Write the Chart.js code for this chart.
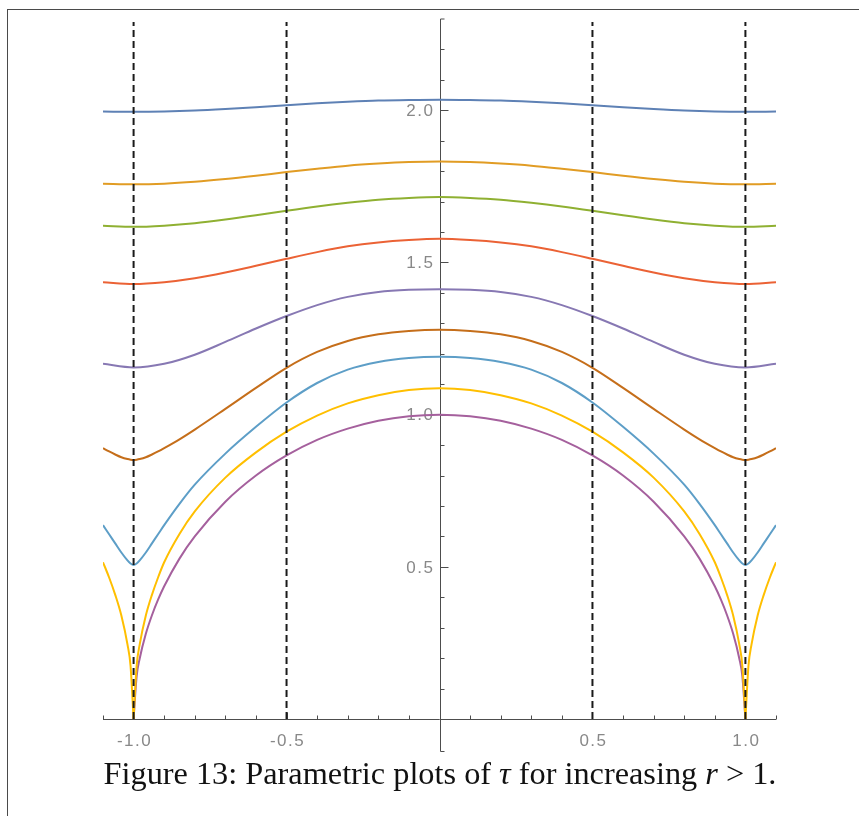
<!DOCTYPE html>
<html lang="en">
  <head>
    <title>Figure 13</title>
    <meta charset="UTF-8" />
    <style>
      body { margin: 0; background: #fff; }
      .frame {
        position: absolute; left: 7px; top: 9px;
        width: 900px; height: 900px;
        border: 1px solid #4a4a4a;
      }
      #plot { position: absolute; left: 0; top: 0; }
      .caption {
        position: absolute; left: 90px; top: 756px; width: 700px;
        text-align: center; white-space: nowrap;
        font-family: "Liberation Serif", serif; font-size: 32.3px; line-height: 34px;
        color: #111;
      }
      .caption i { font-style: italic; }
    </style>
  </head>
  <body>
    <div class="frame"></div>
    <canvas id="plot" width="859" height="816"></canvas>
    <div class="caption">Figure 13: Parametric plots of <i>τ</i> for increasing <i>r</i> &gt; 1.</div>

    <script src="https://cdn.jsdelivr.net/npm/chart.js@4"></script>
    <script>
      // x positions for the flat curves
      var xCoarse = [-1.1, -1.0, -0.9, -0.8, -0.7, -0.6, -0.5, -0.4, -0.3, -0.2, -0.1, 0,
                     0.1, 0.2, 0.3, 0.4, 0.5, 0.6, 0.7, 0.8, 0.9, 1.0, 1.1];
      // denser near x = ±1 where the lower curves dip
      var xFine = [-1.1, -1.08, -1.06, -1.04, -1.02, -1.01, -1.0, -0.99, -0.98, -0.96, -0.94, -0.92,
                   -0.9, -0.85, -0.8, -0.7, -0.6, -0.5, -0.4, -0.3, -0.2, -0.1, 0,
                   0.1, 0.2, 0.3, 0.4, 0.5, 0.6, 0.7, 0.8, 0.85, 0.9, 0.92, 0.94, 0.96, 0.98, 0.99,
                   1.0, 1.01, 1.02, 1.04, 1.06, 1.08, 1.1];
      var xArc = [-1.0, -0.99, -0.98, -0.96, -0.94, -0.92, -0.9, -0.85, -0.8, -0.7, -0.6, -0.5,
                  -0.4, -0.3, -0.2, -0.1, 0, 0.1, 0.2, 0.3, 0.4, 0.5, 0.6, 0.7, 0.8, 0.85,
                  0.9, 0.92, 0.94, 0.96, 0.98, 0.99, 1.0];

      var tau1 = [1.996, 1.995, 1.996, 1.999, 2.004, 2.010, 2.017, 2.023, 2.028, 2.032, 2.034, 2.035,
                  2.034, 2.032, 2.028, 2.023, 2.017, 2.010, 2.004, 1.999, 1.996, 1.995, 1.996];
      var tau2 = [1.759, 1.757, 1.759, 1.765, 1.774, 1.785, 1.797, 1.808, 1.818, 1.825, 1.830, 1.832,
                  1.830, 1.825, 1.818, 1.808, 1.797, 1.785, 1.774, 1.765, 1.759, 1.757, 1.759];
      var tau3 = [1.621, 1.617, 1.621, 1.629, 1.641, 1.655, 1.670, 1.684, 1.696, 1.706, 1.712, 1.715,
                  1.712, 1.706, 1.696, 1.684, 1.670, 1.655, 1.641, 1.629, 1.621, 1.617, 1.621];
      var tau4 = [1.435, 1.429, 1.435, 1.448, 1.467, 1.489, 1.512, 1.534, 1.553, 1.566, 1.574, 1.578,
                  1.574, 1.566, 1.553, 1.534, 1.512, 1.489, 1.467, 1.448, 1.435, 1.429, 1.435];
      var tau5 = [1.167, 1.155, 1.167, 1.197, 1.239, 1.283, 1.324, 1.360, 1.387, 1.403, 1.410, 1.412,
                  1.410, 1.403, 1.387, 1.360, 1.324, 1.283, 1.239, 1.197, 1.167, 1.155, 1.167];

      var tau6 = [0.890, 0.879, 0.869, 0.860, 0.854, 0.852, 0.851, 0.852, 0.854, 0.860, 0.869, 0.879,
                  0.890, 0.919, 0.951, 1.019, 1.088, 1.154, 1.206, 1.242, 1.264, 1.275, 1.279,
                  1.275, 1.264, 1.242, 1.206, 1.154, 1.088, 1.019, 0.951, 0.919, 0.890, 0.879, 0.869,
                  0.860, 0.854, 0.852, 0.851, 0.852, 0.854, 0.860, 0.869, 0.879, 0.890];
      var tau7 = [0.637, 0.607, 0.577, 0.547, 0.521, 0.511, 0.506, 0.511, 0.521, 0.547, 0.577, 0.607,
                  0.637, 0.707, 0.770, 0.872, 0.960, 1.040, 1.104, 1.148, 1.173, 1.186, 1.190,
                  1.186, 1.173, 1.148, 1.104, 1.040, 0.960, 0.872, 0.770, 0.707, 0.637, 0.607, 0.577,
                  0.547, 0.521, 0.511, 0.506, 0.511, 0.521, 0.547, 0.577, 0.607, 0.637];
      var tau8 = [0.515, 0.465, 0.408, 0.340, 0.245, 0.175, 0.0, 0.175, 0.245, 0.340, 0.408, 0.465,
                  0.515, 0.608, 0.682, 0.793, 0.876, 0.944, 0.997, 1.037, 1.064, 1.081, 1.087,
                  1.081, 1.064, 1.037, 0.997, 0.944, 0.876, 0.793, 0.682, 0.608, 0.515, 0.465, 0.408,
                  0.340, 0.245, 0.175, 0.0, 0.175, 0.245, 0.340, 0.408, 0.465, 0.515];
      var tau9 = [0.0, 0.141, 0.199, 0.280, 0.341, 0.392, 0.436, 0.527, 0.600, 0.714, 0.800, 0.866,
                  0.917, 0.954, 0.980, 0.995, 1.0, 0.995, 0.980, 0.954, 0.917, 0.866, 0.800, 0.714,
                  0.600, 0.527, 0.436, 0.392, 0.341, 0.280, 0.199, 0.141, 0.0];

      var dashX = [-1.0, -0.5, 0.5, 1.0];
      var dashTop = 2.29;
      var xMajor = [-1.0, -0.5, 0.5, 1.0];
      var xMinor = [-1.1, -0.9, -0.8, -0.7, -0.6, -0.4, -0.3, -0.2, -0.1,
                    0.1, 0.2, 0.3, 0.4, 0.6, 0.7, 0.8, 0.9, 1.1];
      var yMajor = [0.5, 1.0, 1.5, 2.0];
      var yMinor = [0.1, 0.2, 0.3, 0.4, 0.6, 0.7, 0.8, 0.9, 1.1, 1.2, 1.3, 1.4,
                    1.6, 1.7, 1.8, 1.9, 2.1, 2.2];

      var colors = ["#5E81B5", "#E19C24", "#8FB032", "#EB6235", "#8778B3",
                    "#C56E1A", "#5D9EC7", "#FFBF00", "#A5609D"];

      function pts(xs, ys) {
        return xs.map(function (x, i) { return { x: x, y: ys[i] }; });
      }
      // split at x = ±1 so the cusps stay sharp
      function pieces(xs, ys) {
        var out = [], cur = [];
        xs.forEach(function (x, i) {
          cur.push({ x: x, y: ys[i] });
          if (Math.abs(Math.abs(x) - 1) < 1e-9 && cur.length > 1) {
            out.push(cur);
            cur = [{ x: x, y: ys[i] }];
          }
        });
        if (cur.length > 1) out.push(cur);
        return out;
      }
      function curve(data, color) {
        return {
          data: data, borderColor: color, borderWidth: 2, pointRadius: 0,
          fill: false, cubicInterpolationMode: "monotone", order: 1
        };
      }

      var datasets = [];
      dashX.forEach(function (x) {
        datasets.push({
          data: [{ x: x, y: 0 }, { x: x, y: dashTop }],
          borderColor: "#1a1a1a", borderWidth: 2, borderDash: [7, 4],
          pointRadius: 0, fill: false, order: 0
        });
      });
      [tau1, tau2, tau3, tau4, tau5].forEach(function (ys, i) {
        datasets.push(curve(pts(xCoarse, ys), colors[i]));
      });
      datasets.push(curve(pts(xFine, tau6), colors[5]));
      datasets.push(curve(pts(xFine, tau7), colors[6]));
      pieces(xFine, tau8).forEach(function (p) { datasets.push(curve(p, colors[7])); });
      datasets.push(curve(pts(xArc, tau9), colors[8]));

      var axesPlugin = {
        id: "crossAxes",
        beforeDatasetsDraw: function (chart) {
          var ctx = chart.ctx, sx = chart.scales.x, sy = chart.scales.y;
          var x0 = Math.round(sx.getPixelForValue(0)) + 0.5;
          var y0 = Math.round(sy.getPixelForValue(0)) + 0.5;
          ctx.save();
          ctx.strokeStyle = "#4d4d4d";
          ctx.lineWidth = 1;
          ctx.beginPath();
          ctx.moveTo(sx.left, y0); ctx.lineTo(sx.right, y0);
          // vertical axis, running a little past both ends
          ctx.moveTo(x0 + 4, sy.top); ctx.lineTo(x0, sy.top); ctx.lineTo(x0, y0 + 32);
          ctx.lineTo(x0 + 4, y0 + 32);
          xMinor.forEach(function (v) {
            var px = Math.round(sx.getPixelForValue(v)) + 0.5;
            ctx.moveTo(px, y0); ctx.lineTo(px, y0 - 4);
          });
          xMajor.forEach(function (v) {
            var px = Math.round(sx.getPixelForValue(v)) + 0.5;
            ctx.moveTo(px, y0); ctx.lineTo(px, y0 - 7);
          });
          yMinor.forEach(function (v) {
            var py = Math.round(sy.getPixelForValue(v)) + 0.5;
            ctx.moveTo(x0, py); ctx.lineTo(x0 + 4, py);
          });
          yMajor.forEach(function (v) {
            var py = Math.round(sy.getPixelForValue(v)) + 0.5;
            ctx.moveTo(x0, py); ctx.lineTo(x0 + 8, py);
          });
          ctx.stroke();

          ctx.fillStyle = "#888";
          ctx.font = '17px "Liberation Sans", Arial, sans-serif';
          ctx.letterSpacing = "1.5px";
          ctx.textAlign = "center";
          ctx.textBaseline = "middle";
          xMajor.forEach(function (v) {
            ctx.fillText(v.toFixed(1), sx.getPixelForValue(v) + 1, y0 + 22);
          });
          ctx.textAlign = "right";
          yMajor.forEach(function (v) {
            ctx.fillText(v.toFixed(1), x0 - 6, sy.getPixelForValue(v) + 1);
          });
          ctx.restore();
        }
      };

      new Chart(document.getElementById("plot"), {
        type: "line",
        data: { datasets: datasets },
        options: {
          responsive: false,
          animation: false,
          layout: { padding: { left: 103, right: 83, top: 19, bottom: 97 } },
          scales: {
            x: { type: "linear", min: -1.1, max: 1.1, display: false },
            y: { type: "linear", min: 0, max: 2.3, display: false }
          },
          plugins: { legend: { display: false }, tooltip: { enabled: false } }
        },
        plugins: [axesPlugin]
      });
    </script>
  </body>
</html>
